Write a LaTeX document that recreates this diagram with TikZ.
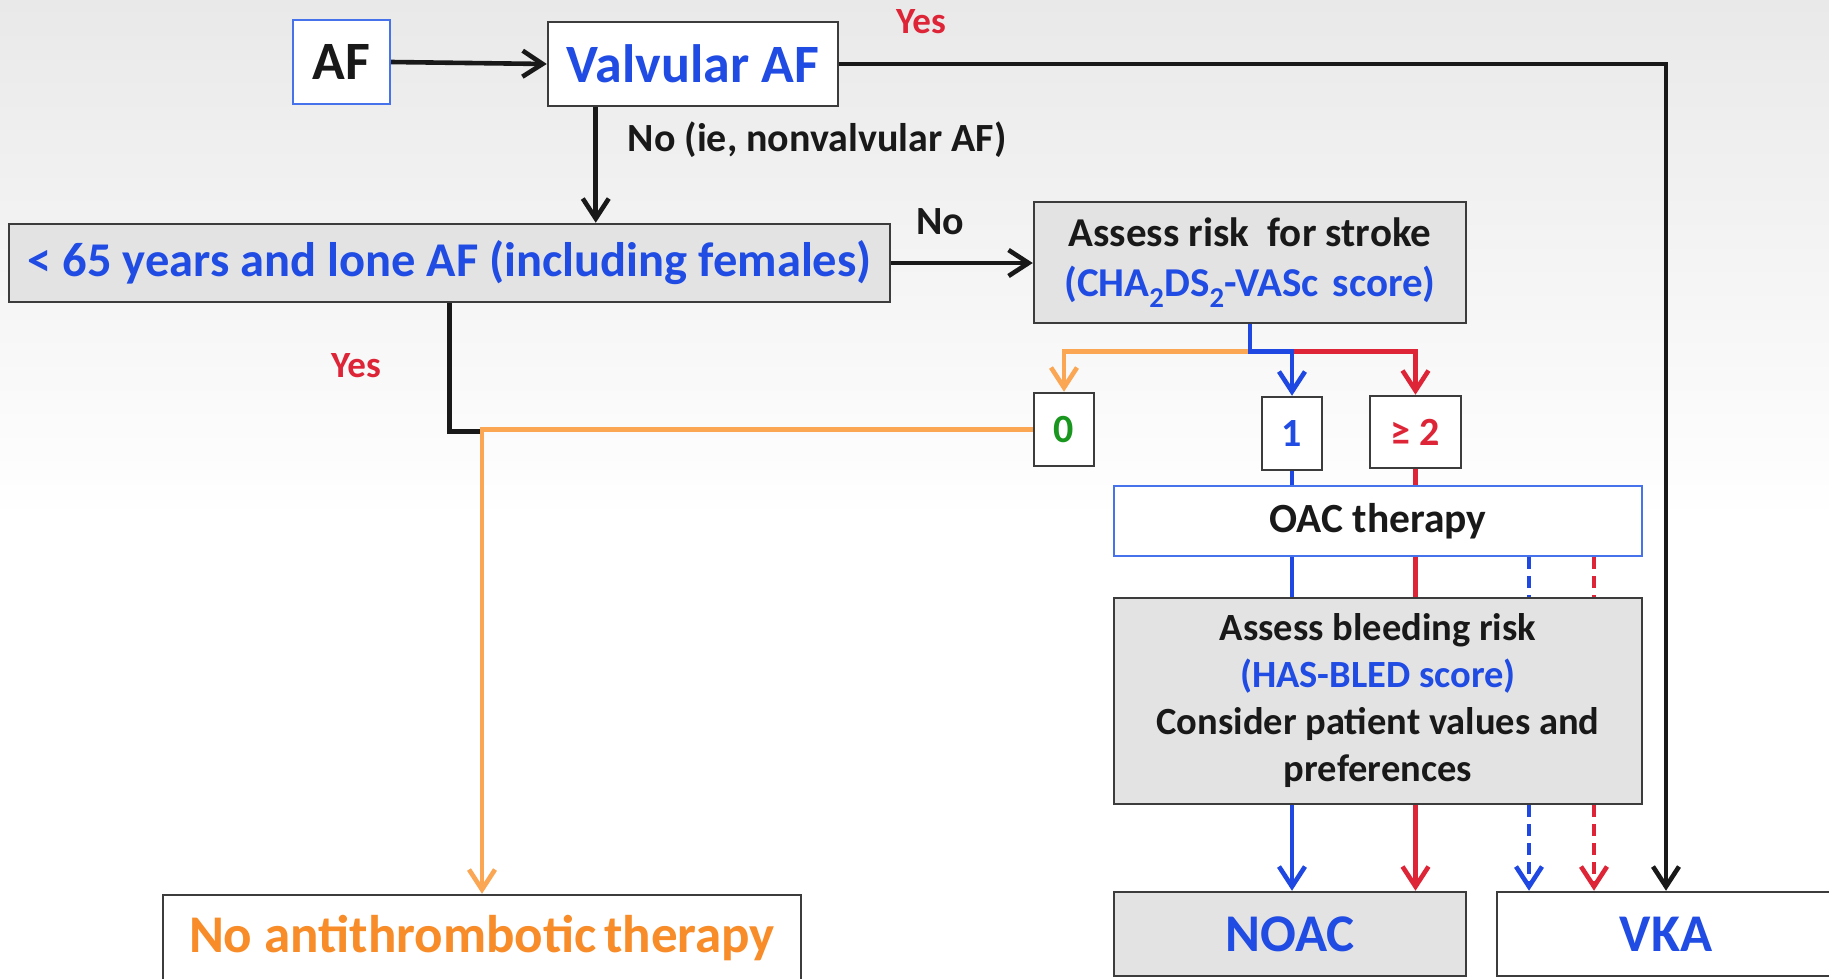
\documentclass[tikz,border=0pt]{standalone}
\usepackage{fontspec}
\setmainfont{Carlito}
\usetikzlibrary{arrows.meta}

\definecolor{bgtop}{RGB}{233,233,233}
\definecolor{edge}{RGB}{60,60,60}
\definecolor{boxgray}{RGB}{227,227,227}
\definecolor{txtblue}{RGB}{32,76,228}
\definecolor{lineblue}{RGB}{30,72,225}
\definecolor{frameblue}{RGB}{70,115,235}
\definecolor{txtred}{RGB}{222,37,55}
\definecolor{lineorange}{RGB}{250,166,82}
\definecolor{txtorange}{RGB}{247,140,40}
\definecolor{txtgreen}{RGB}{25,150,30}
\definecolor{ink}{RGB}{25,25,25}

\newcommand\fsz[2]{\fontsize{#1}{#2}\selectfont\bfseries}

\tikzset{
  box/.style={draw=edge, line width=2.5pt, rectangle, inner sep=0pt,
              align=center, text=ink},
  whitebox/.style={box, fill=white},
  graybox/.style={box, fill=boxgray},
  lbl/.style={inner sep=0pt, text=ink, font=\fsz{40}{46}},
  tip/.style={-{Straight Barb[length=20pt,width=26pt]}},
  blk/.style={draw=ink, line width=4.6pt},
  blu/.style={draw=lineblue, line width=4.6pt},
  rd/.style={draw=txtred, line width=4.6pt},
  org/.style={draw=lineorange, line width=4.6pt},
  dsh/.style={dash pattern=on 12pt off 7pt},
}

\begin{document}
\begin{tikzpicture}[x=1pt,y=-1pt]
\useasboundingbox (0,0) rectangle (1829,978);
\fill[white] (0,0) rectangle (1829,978);
\shade[top color=bgtop, bottom color=white] (0,0) rectangle (1829,520);

% boxes
\node[whitebox, draw=frameblue, line width=2pt, minimum width=97pt, minimum height=84pt,
      font=\fsz{54}{60}] (af) at (341.5,62) {AF};
\node[whitebox, minimum width=290pt, minimum height=84pt, text=txtblue,
      font=\fsz{54}{60}] (valv) at (693,64) {Valvular AF};
\node[graybox, minimum width=881pt, minimum height=78pt, text=txtblue,
      font=\fsz{48.5}{56}] (lt65) at (449.5,263) {< 65 years and lone AF (including females)};
\node[graybox, minimum width=432pt, minimum height=121pt,
      font=\fsz{41}{50}] (stroke) at (1250,262.5)
      {Assess risk\hspace{18pt}for stroke\\ \textcolor{txtblue}{(CHA\textsubscript{2}DS\textsubscript{2}-VASc\hspace{14pt}score)}};
\node[whitebox, minimum width=60pt, minimum height=73pt, text=txtgreen,
      font=\fsz{40}{46}] (zero) at (1064,429.5) {0};
\node[whitebox, minimum width=60pt, minimum height=73pt, text=txtblue,
      font=\fsz{40}{46}] (one) at (1292,433.5) {1};
\node[whitebox, minimum width=91pt, minimum height=72pt, text=txtred,
      font=\fsz{40}{46}] (two) at (1415.5,432) {≥ 2};
\node[whitebox, draw=frameblue, line width=2pt, minimum width=528pt, minimum height=70pt,
      font=\fsz{41.5}{46}] (oac) at (1378,521) {OAC therapy};
\node[graybox, minimum width=528pt, minimum height=206pt,
      font=\fsz{38.5}{47}] (bleed) at (1378,701)
      {Assess bleeding risk\\ \textcolor{txtblue}{(HAS-BLED score)}\\ Consider patient values and\\ preferences};
\node[graybox, minimum width=352pt, minimum height=84pt, text=txtblue,
      font=\fsz{53}{60}] (noac) at (1290,934) {NOAC};
\node[whitebox, minimum width=338pt, minimum height=84pt, text=txtblue,
      font=\fsz{53}{60}] (vka) at (1666,934) {VKA};
\node[whitebox, minimum width=638pt, minimum height=86pt, text=txtorange,
      font=\fsz{53}{60}] (nat) at (482,938) {No antithrombotic\hspace{8pt}therapy};

% labels
\node[lbl, text=txtred, font=\fsz{37}{42}] (yesA) at (921,22) {Yes};
\node[lbl] (noA) at (817,140) {No (ie, nonvalvular AF)};
\node[lbl] (noB) at (940,222) {No};
\node[lbl, text=txtred, font=\fsz{37}{42}] (yesB) at (356,366) {Yes};

% black connectors
\draw[blk, tip] (af.east) -- (valv.west);
\draw[blk, tip] (valv.east) -| (vka.north);
\draw[blk, tip] ([xshift=49pt]valv.south west) -- ([xshift=49pt]valv.south west |- lt65.north);
\draw[blk, tip] (lt65.east) -- (lt65.east -| stroke.west);
\draw[blk] (lt65.south) |- ([yshift=-2pt]zero.west -| nat.north);

% stroke risk split
\path (stroke.south) ++(0,27) coordinate (split);
\draw[org, tip] (zero.west) -| (nat.north);
\draw[org, tip] (split) -| (zero.north);
\draw[rd, tip] (split -| one.north) -| (two.north);
\draw[blu, tip] (stroke.south) -- (split) -| (one.north);

% through OAC therapy and bleeding assessment
\draw[blu] (one.south) -- (one.south |- oac.north);
\draw[rd] (two.south) -- (two.south |- oac.north);
\draw[blu] (one.south |- oac.south) -- (one.south |- bleed.north);
\draw[rd] (two.south |- oac.south) -- (two.south |- bleed.north);
\draw[blu, dsh] (oac.south -| 1529,0) -- (bleed.north -| 1529,0);
\draw[rd, dsh] (oac.south -| 1594,0) -- (bleed.north -| 1594,0);

% final choices
\draw[blu, tip] (one.south |- bleed.south) -- (one.south |- noac.north);
\draw[rd, tip] (two.south |- bleed.south) -- (two.south |- noac.north);
\draw[blu, dsh, tip] (bleed.south -| 1529,0) -- (vka.north -| 1529,0);
\draw[rd, dsh, tip] (bleed.south -| 1594,0) -- (vka.north -| 1594,0);
\end{tikzpicture}
\end{document}
